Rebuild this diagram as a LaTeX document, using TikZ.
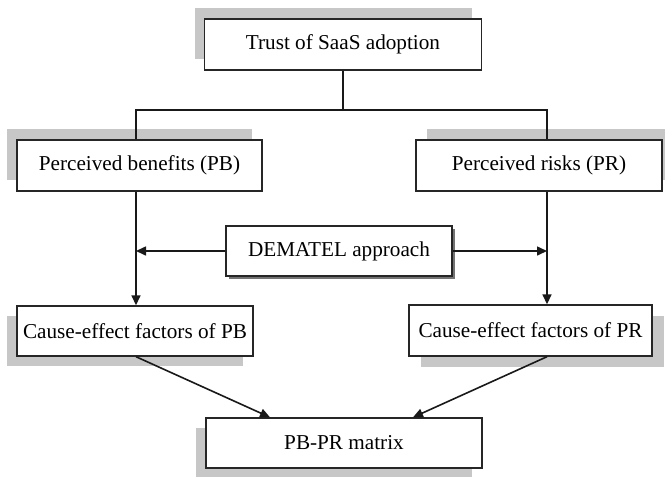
\documentclass[tikz,border=0pt]{standalone}
\usepackage{fontspec}
\setmainfont{Liberation Serif}
\usetikzlibrary{arrows.meta,shadows}
\begin{document}
\begin{tikzpicture}[x=0.5pt,y=-0.5pt,>={Triangle[length=5pt,width=4.5pt]}]
		\tikzstyle{box}=[draw=black!85,fill=white,line width=0.7pt,font=\fontsize{10.6}{12}\selectfont,minimum height=25.5pt,inner sep=0pt]
		\tikzstyle{ul}=[general shadow={fill=black!22,shadow xshift=-5pt,shadow yshift=5.5pt}]
		\tikzstyle{ur}=[general shadow={fill=black!22,shadow xshift=5.5pt,shadow yshift=5.5pt}]
		\tikzstyle{dl}=[general shadow={fill=black!22,shadow xshift=-5pt,shadow yshift=-5pt}]
		\tikzstyle{dr}=[general shadow={fill=black!22,shadow xshift=6pt,shadow yshift=-5.5pt}]
		\tikzstyle{link}=[draw=black!90,line width=0.8pt]
		\useasboundingbox (0,0) rectangle (665,477);
		\node[box,ul,minimum width=138.5pt] (trust) at (343,44.5) {Trust of SaaS adoption};
		\node[box,ul,minimum width=122.5pt] (pb) at (139.5,165.5) {Perceived benefits (PB)};
		\node[box,ur,minimum width=123pt] (pr) at (539,165.5) {Perceived risks (PR)};
		\node[box,minimum width=113pt,minimum height=25pt,drop shadow={fill=black!55,shadow xshift=1.5pt,shadow yshift=-1.5pt,opacity=1}] (dem) at (339,251) {DEMATEL approach};
		\node[box,dl,minimum width=118pt,minimum height=25pt] (cpb) at (135,331) {Cause-effect factors of PB};
		\node[box,dr,minimum width=121.5pt] (cpr) at (530.5,330.5) {Cause-effect factors of PR};
		\node[box,dl,minimum width=138pt,minimum height=25pt] (mat) at (344,443) {PB-PR matrix};
		\coordinate (j_l) at (136,110);
		\coordinate (j_r) at (547,110);
		\draw[link] (trust.south) -- (trust.south |- j_l);
		\draw[link] (pb.north -| j_l) -- (j_l) -- (j_r) -- (pr.north -| j_r);
		\draw[link,->] (pb.south -| j_l) -- (cpb.north -| j_l);
		\draw[link,->] (pr.south -| j_r) -- (cpr.north -| j_r);
		\draw[link,->] (dem.west) -- (dem.west -| j_l);
		\draw[link,->] (dem.east) -- (dem.east -| j_r);
		\draw[link,->] (cpb.south -| j_l) -- ([xshift=-37pt]mat.north);
		\draw[link,->] (cpr.south -| j_r) -- ([xshift=34.5pt]mat.north);
	\end{tikzpicture}
\end{document}
